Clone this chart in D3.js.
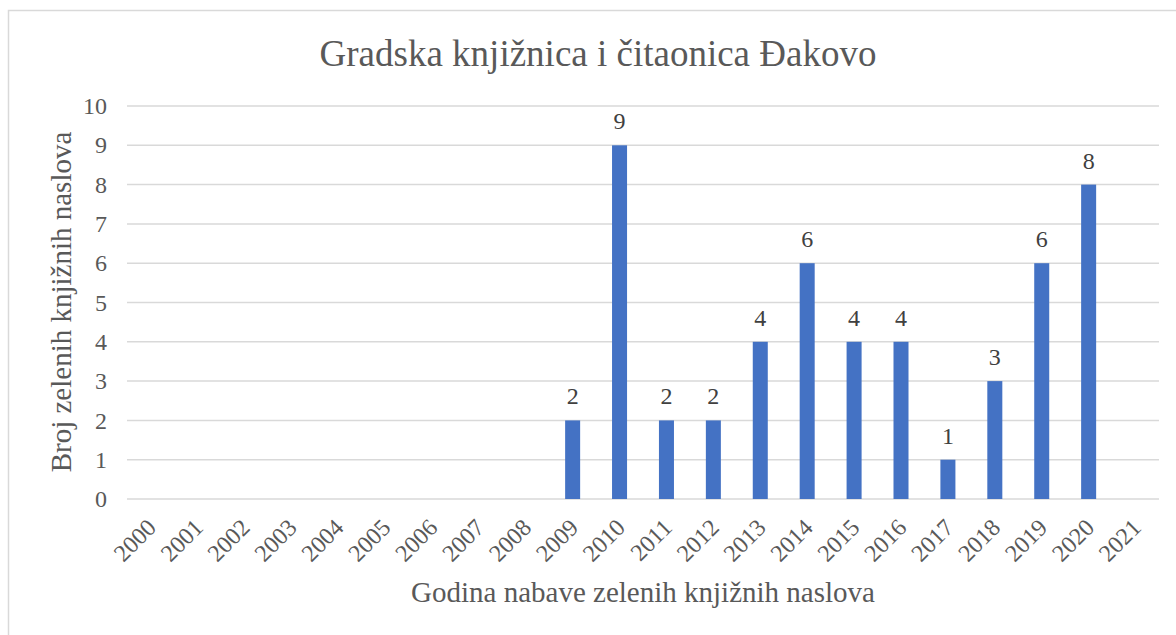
<!DOCTYPE html>
<html>
<head>
<meta charset="utf-8">
<script src="https://cdn.jsdelivr.net/npm/d3@7"></script>
<style>
  body { margin: 0; background: #fff; }
  svg text { font-family: "Liberation Serif", "Times New Roman", serif; }
</style>
</head>
<body>
<svg id="chart" width="1176" height="635"></svg>
<script>
// chart data
var years = ["2000","2001","2002","2003","2004","2005","2006","2007","2008","2009","2010",
             "2011","2012","2013","2014","2015","2016","2017","2018","2019","2020","2021"];
var counts = [0,0,0,0,0,0,0,0,0,2,9,2,2,4,6,4,4,1,3,6,8,0];
var yTicks = [0,1,2,3,4,5,6,7,8,9,10];

var titleText = "Gradska knjižnica i čitaonica Đakovo";
var xTitle = "Godina nabave zelenih knjižnih naslova";
var yTitle = "Broj zelenih knjižnih naslova";

// pair years with counts, drop empty years for bars/labels
var table = years.map(function(y, i){ return {year: y, count: counts[i]}; });
var nonZero = table.filter(function(d){ return d.count > 0; });

var svg = d3.select("#chart");

var margin = {left: 127, right: 1159, top: 106, bottom: 499};

// outer frame (right and bottom edges fall outside the picture)
svg.append("rect")
    .attr("x", 8.5).attr("y", 10.5)
    .attr("width", 1200).attr("height", 700)
    .attr("fill", "none")
    .attr("stroke", "#d9d9d9")
    .attr("stroke-width", 1.5);

var xScale = d3.scaleBand()
    .domain(years)
    .range([margin.left, margin.right])
    .paddingInner(0.68)
    .paddingOuter(0.34);

var yScale = d3.scaleLinear()
    .domain([0, 10])
    .range([margin.bottom, margin.top]);

// gridlines
svg.append("g")
    .selectAll("line")
    .data(yTicks)
    .enter()
    .append("line")
    .attr("x1", margin.left)
    .attr("x2", margin.right)
    .attr("y1", function(d){ return yScale(d); })
    .attr("y2", function(d){ return yScale(d); })
    .attr("stroke", "#d9d9d9")
    .attr("stroke-width", 1.5);

// y axis labels
var yAxis = d3.axisLeft(yScale)
    .tickValues(yTicks)
    .tickSize(0)
    .tickPadding(20);

var yg = svg.append("g")
    .attr("transform", "translate(" + margin.left + ",0)")
    .call(yAxis);
yg.select(".domain").remove();
yg.attr("font-family", null).attr("font-size", null);
yg.selectAll("text")
    .attr("fill", "#595959")
    .style("font-size", "24px");

// x axis labels, rotated
var xAxis = d3.axisBottom(xScale).tickSize(0).tickPadding(0);
var xg = svg.append("g")
    .attr("transform", "translate(0," + margin.bottom + ")")
    .call(xAxis);
xg.select(".domain").remove();
xg.attr("font-family", null).attr("font-size", null);
xg.selectAll("text")
    .attr("fill", "#595959")
    .style("font-size", "24px")
    .style("text-anchor", "end")
    .attr("dy", null)
    .attr("y", 0)
    .attr("transform", "translate(7,30) rotate(-45)");

// bars
svg.append("g")
    .selectAll("rect")
    .data(nonZero)
    .enter()
    .append("rect")
    .attr("x", function(d){ return xScale(d.year); })
    .attr("y", function(d){ return yScale(d.count); })
    .attr("width", xScale.bandwidth())
    .attr("height", function(d){ return yScale(0) - yScale(d.count); })
    .attr("fill", "#4472c4");

// data labels
svg.append("g")
    .selectAll("text")
    .data(nonZero)
    .enter()
    .append("text")
    .attr("x", function(d){ return xScale(d.year) + xScale.bandwidth() / 2; })
    .attr("y", function(d){ return yScale(d.count) - 16; })
    .attr("text-anchor", "middle")
    .attr("fill", "#404040")
    .style("font-size", "24px")
    .text(function(d){ return d.count; });

// title
svg.append("text")
    .attr("x", 598)
    .attr("y", 66)
    .attr("text-anchor", "middle")
    .attr("fill", "#595959")
    .style("font-size", "37px")
    .text(titleText);

// axis titles
svg.append("text")
    .attr("x", 643)
    .attr("y", 602)
    .attr("text-anchor", "middle")
    .attr("fill", "#595959")
    .style("font-size", "29px")
    .text(xTitle);

svg.append("text")
    .attr("transform", "translate(71,302) rotate(-90)")
    .attr("text-anchor", "middle")
    .attr("fill", "#595959")
    .style("font-size", "29px")
    .text(yTitle);
</script>
</body>
</html>
